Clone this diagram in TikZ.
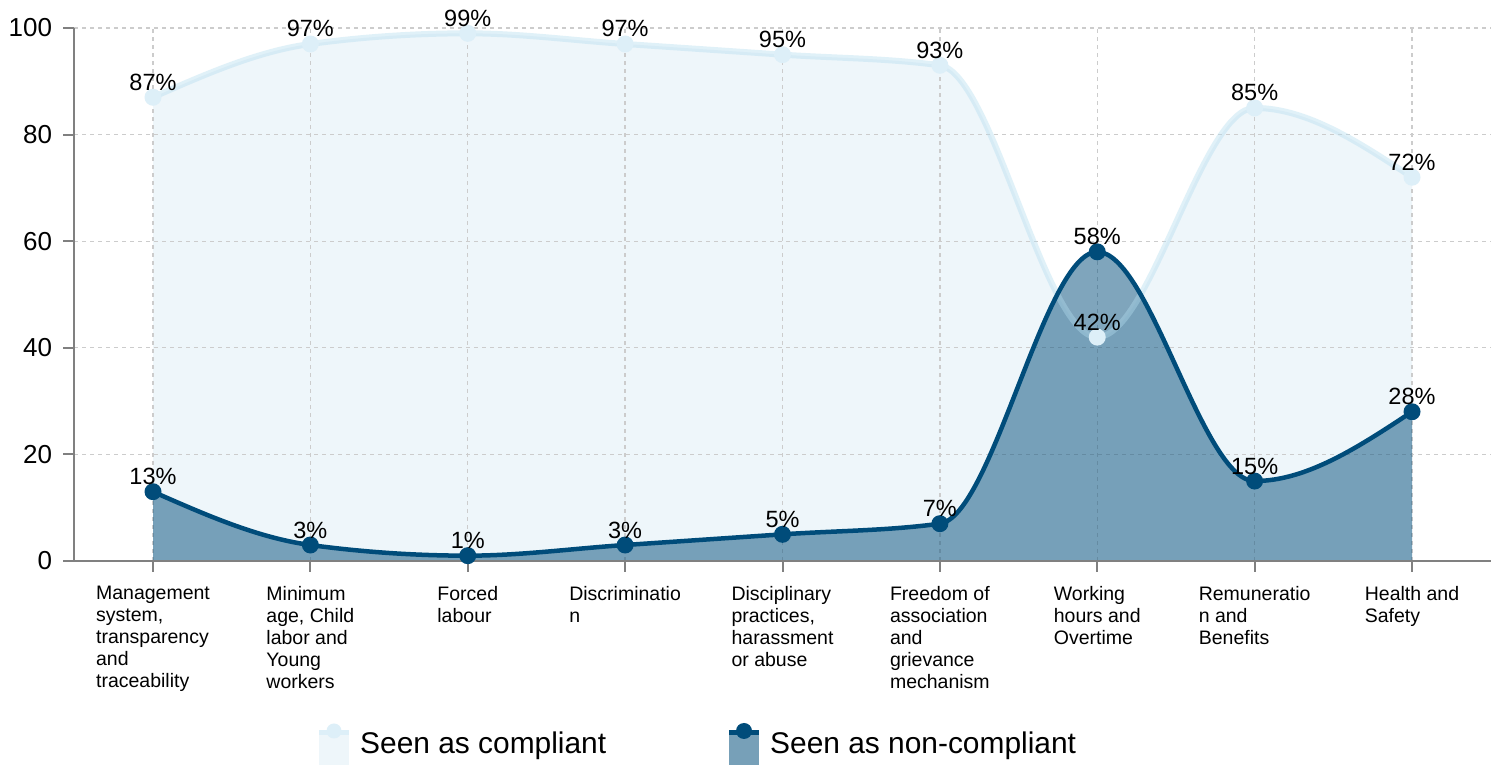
\documentclass[tikz,border=0pt]{standalone}
\usepackage{fontspec}
\setmainfont{Liberation Sans}
\definecolor{ncline}{HTML}{004C7A}
\definecolor{cfill}{HTML}{EEF6FA}
\definecolor{cline}{HTML}{B3DCEF}
\definecolor{cmark}{HTML}{DDEFF8}
\definecolor{nclegfill}{HTML}{77A0B8}
\definecolor{axisgray}{HTML}{808080}
\tikzset{
  gridline/.style={draw=black!20, line width=1.3pt, dash pattern=on 4pt off 4pt},
  axisline/.style={draw=axisgray, line width=2pt},
  ticklab/.style={anchor=east, inner sep=0pt, font=\fontsize{26pt}{30pt}\selectfont},
  catlab/.style={anchor=north, align=left, inner sep=0pt, font=\fontsize{19.5pt}{22pt}\selectfont},
  datalab/.style={anchor=base, inner sep=0pt, font=\fontsize{23.5pt}{28pt}\selectfont},
  cdot/.style={fill=cmark, draw=none},
  ncdot/.style={fill=ncline, draw=none},
  legtext/.style={anchor=base west, inner sep=0pt, font=\fontsize{29.9pt}{34pt}\selectfont}
}
\begin{document}
\begin{tikzpicture}[x=1pt,y=1pt]
\useasboundingbox (0,0) rectangle (1497,765);
\fill[white] (0,0) rectangle (1497,765);
\begin{scope}[shift={(153pt,204pt)}, x=157.375pt, y=5.33pt]
  % compliant area
  \fill[cfill] (0,0) -- (0,87)
    .. controls (0.3333,91.333) and (0.6667,95.667) .. (1,97)
    .. controls (1.3333,98.333) and (1.6667,99) .. (2,99)
    .. controls (2.3333,99) and (2.6667,97.667) .. (3,97)
    .. controls (3.3333,96.333) and (3.6667,95.667) .. (4,95)
    .. controls (4.3333,94.333) and (4.6667,94.333) .. (5,93)
    .. controls (5.3333,91.667) and (5.6667,42) .. (6,42)
    .. controls (6.3333,42) and (6.6667,85) .. (7,85)
    .. controls (7.3333,85) and (7.6667,78.5) .. (8,72)
    -- (8,0) -- cycle;
  % grid
  \foreach \v in {20,40,60,80,100} \draw[gridline] (-0.5,\v) -- (8.5,\v);
  \foreach \i in {0,...,8} \draw[gridline] (\i,0) -- (\i,100);
  % non-compliant area
  \fill[ncline, opacity=0.5] (0,0) -- (0,13)
    .. controls (0.3333,8.667) and (0.6667,4.333) .. (1,3)
    .. controls (1.3333,1.667) and (1.6667,1) .. (2,1)
    .. controls (2.3333,1) and (2.6667,2.333) .. (3,3)
    .. controls (3.3333,3.667) and (3.6667,4.333) .. (4,5)
    .. controls (4.3333,5.667) and (4.6667,5.667) .. (5,7)
    .. controls (5.3333,8.333) and (5.6667,58) .. (6,58)
    .. controls (6.3333,58) and (6.6667,15) .. (7,15)
    .. controls (7.3333,15) and (7.6667,21.5) .. (8,28)
    -- (8,0) -- cycle;
  % axes
  \draw[axisline] (-0.5,0) -- (-0.5,100);
  \draw[axisline] (-0.5,0) -- (8.5,0);
  \foreach \v in {0,20,40,60,80,100} {
    \draw[axisline] (-0.5,\v) -- ++(-11pt,0);
    \node[ticklab] (tick\v) at ([xshift=-22pt]-0.5,\v) {\v};
  }
  \foreach \i in {0,...,8} \draw[axisline] (\i,0) -- ++(0,-11pt);
  % compliant line
  \draw[cline, opacity=0.4, line width=6pt] (0,87)
    .. controls (0.3333,91.333) and (0.6667,95.667) .. (1,97)
    .. controls (1.3333,98.333) and (1.6667,99) .. (2,99)
    .. controls (2.3333,99) and (2.6667,97.667) .. (3,97)
    .. controls (3.3333,96.333) and (3.6667,95.667) .. (4,95)
    .. controls (4.3333,94.333) and (4.6667,94.333) .. (5,93)
    .. controls (5.3333,91.667) and (5.6667,42) .. (6,42)
    .. controls (6.3333,42) and (6.6667,85) .. (7,85)
    .. controls (7.3333,85) and (7.6667,78.5) .. (8,72);
  % non-compliant line
  \draw[ncline, line width=4.5pt] (0,13)
    .. controls (0.3333,8.667) and (0.6667,4.333) .. (1,3)
    .. controls (1.3333,1.667) and (1.6667,1) .. (2,1)
    .. controls (2.3333,1) and (2.6667,2.333) .. (3,3)
    .. controls (3.3333,3.667) and (3.6667,4.333) .. (4,5)
    .. controls (4.3333,5.667) and (4.6667,5.667) .. (5,7)
    .. controls (5.3333,8.333) and (5.6667,58) .. (6,58)
    .. controls (6.3333,58) and (6.6667,15) .. (7,15)
    .. controls (7.3333,15) and (7.6667,21.5) .. (8,28);
  % markers and labels
  \foreach \i/\c in {0/87,1/97,2/99,3/97,4/95,5/93,6/42,7/85,8/72} {
    \fill[cdot] (\i,\c) circle[radius=8.5pt];
  }
  \foreach \i/\n in {0/13,1/3,2/1,3/3,4/5,5/7,6/58,7/15,8/28} {
    \fill[ncdot] (\i,\n) circle[radius=8.5pt];
  }
  \foreach \i/\c in {0/87,1/97,2/99,3/97,4/95,5/93,6/42,7/85,8/72} {
    \node[datalab] (cl\i) at ([yshift=7pt]\i,\c) {\c\%};
  }
  \foreach \i/\n in {0/13,1/3,2/1,3/3,4/5,5/7,6/58,7/15,8/28} {
    \node[datalab] (nl\i) at ([yshift=7pt]\i,\n) {\n\%};
  }
  % category labels
  \node[catlab] (cat0) at ([yshift=-25pt]0,0) {Management\\system,\\transparency\\and\\traceability};
  \node[catlab] (cat1) at ([yshift=-25pt]1,0) {Minimum\\age, Child\\labor and\\Young\\workers};
  \node[catlab] (cat2) at ([yshift=-25pt]2,0) {Forced\\labour};
  \node[catlab] (cat3) at ([yshift=-25pt]3,0) {Discriminatio\\n};
  \node[catlab] (cat4) at ([yshift=-25pt]4,0) {Disciplinary\\practices,\\harassment\\or abuse};
  \node[catlab] (cat5) at ([yshift=-25pt]5,0) {Freedom of\\association\\and\\grievance\\mechanism};
  \node[catlab] (cat6) at ([yshift=-25pt]6,0) {Working\\hours and\\Overtime};
  \node[catlab] (cat7) at ([yshift=-25pt]7,0) {Remuneratio\\n and\\Benefits};
  \node[catlab] (cat8) at ([yshift=-25pt]8,0) {Health and\\Safety};
\end{scope}
% legend
\fill[cfill] (319,0) rectangle (349,33);
\draw[cmark, line width=5pt] (319,32) -- (349,32);
\fill[cmark] (334,34) circle[radius=7.5];
\node[legtext] (leg1) at (360,11) {Seen as compliant};
\fill[nclegfill] (729,0) rectangle (759,33);
\draw[ncline, line width=5pt] (729,32) -- (759,32);
\fill[ncline] (744,34) circle[radius=8];
\node[legtext] (leg2) at (770,11) {Seen as non-compliant};
\end{tikzpicture}
\end{document}
